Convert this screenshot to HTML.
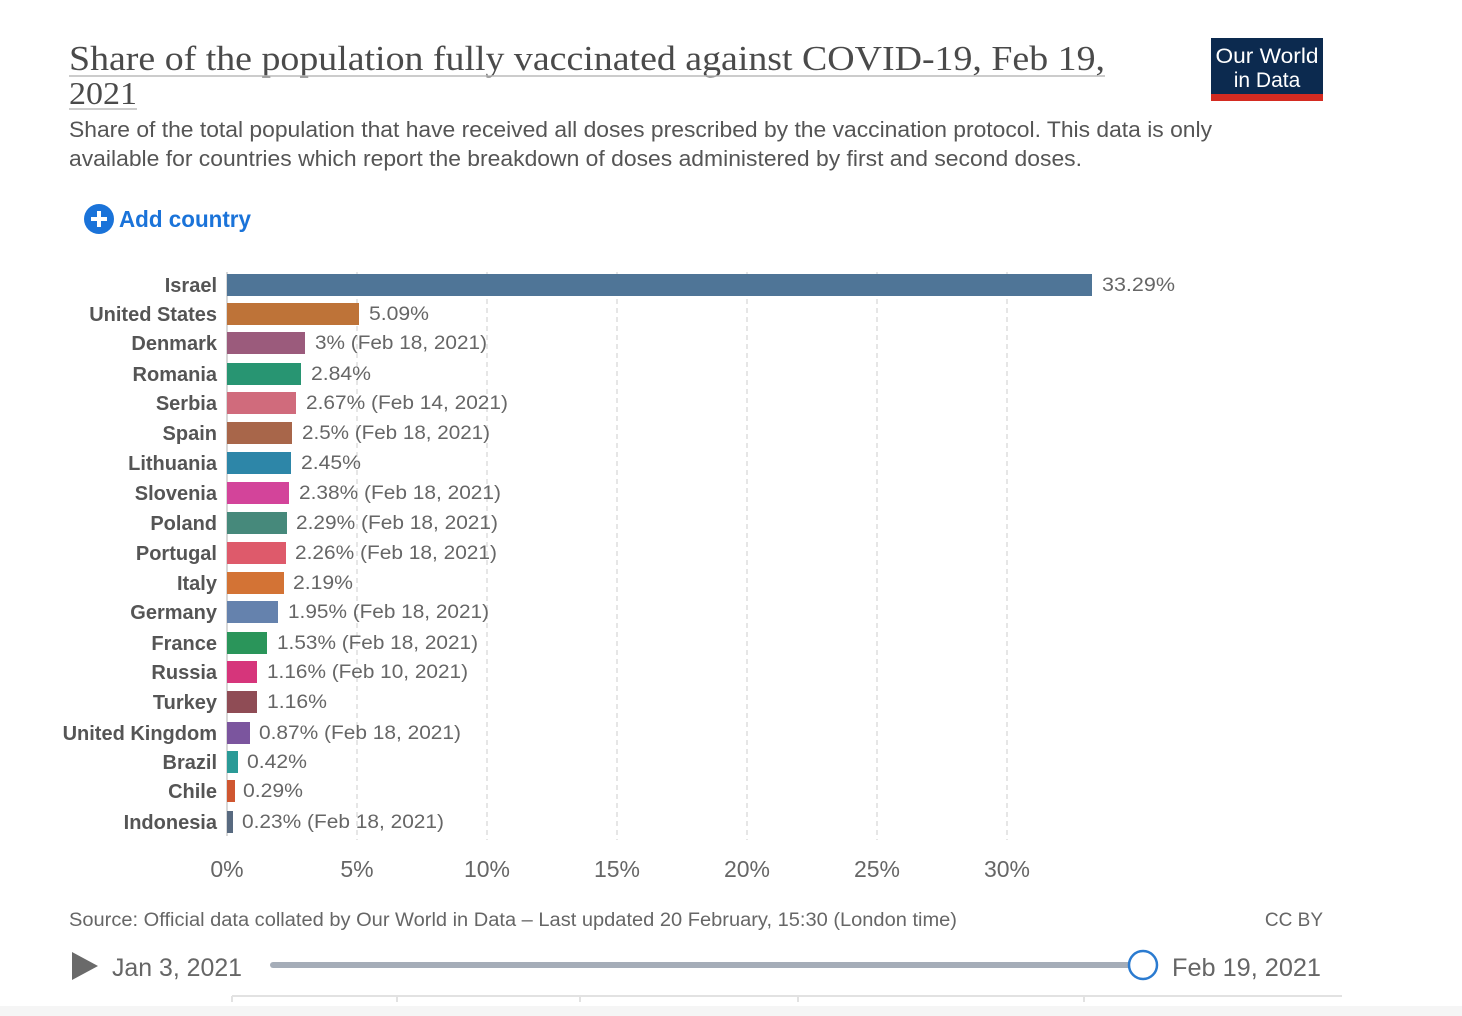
<!DOCTYPE html>
<html><head><meta charset="utf-8"><style>
html,body{margin:0;padding:0;background:#fff;width:1462px;height:1016px;overflow:hidden}
svg{display:block}
</style></head><body>
<svg width="1462" height="1016" viewBox="0 0 1462 1016" xmlns="http://www.w3.org/2000/svg" font-family="Liberation Sans, sans-serif">
<rect width="1462" height="1016" fill="#fff"/>
<text x="69" y="70" font-family="Liberation Serif, serif" font-size="35" fill="#4a4a4a" textLength="1036" lengthAdjust="spacingAndGlyphs">Share of the population fully vaccinated against COVID-19, Feb 19,</text>
<line x1="69" y1="76" x2="1105" y2="76" stroke="#bbb" stroke-width="1.5"/>
<text x="69" y="104" font-family="Liberation Serif, serif" font-size="32" fill="#4a4a4a" textLength="68" lengthAdjust="spacingAndGlyphs">2021</text>
<line x1="69" y1="109" x2="137" y2="109" stroke="#bbb" stroke-width="1.5"/>
<text x="69" y="137" font-size="22" fill="#555" textLength="1143" lengthAdjust="spacingAndGlyphs">Share of the total population that have received all doses prescribed by the vaccination protocol. This data is only</text>
<text x="69" y="166" font-size="22" fill="#555" textLength="1013" lengthAdjust="spacingAndGlyphs">available for countries which report the breakdown of doses administered by first and second doses.</text>
<rect x="1211" y="38" width="112" height="57" fill="#0c2a4f"/>
<rect x="1211" y="94" width="112" height="7" fill="#d42b21"/>
<text x="1267" y="63" font-size="21" fill="#fff" text-anchor="middle" textLength="103" lengthAdjust="spacingAndGlyphs">Our World</text>
<text x="1267" y="87" font-size="21" fill="#fff" text-anchor="middle">in Data</text>
<circle cx="99" cy="219" r="15" fill="#1a73d9"/>
<rect x="91" y="217" width="16" height="4" fill="#fff"/><rect x="97" y="211" width="4" height="16" fill="#fff"/>
<text x="119" y="227" font-size="23" font-weight="bold" fill="#1a73d9" textLength="132" lengthAdjust="spacingAndGlyphs">Add country</text>
<g stroke="#d6d6d6" stroke-dasharray="5,4" stroke-width="1.2">
<line x1="357" y1="272" x2="357" y2="840"/><line x1="487" y1="272" x2="487" y2="840"/><line x1="617" y1="272" x2="617" y2="840"/><line x1="747" y1="272" x2="747" y2="840"/><line x1="877" y1="272" x2="877" y2="840"/><line x1="1007" y1="272" x2="1007" y2="840"/>
</g>
<line x1="227" y1="272" x2="227" y2="836" stroke="#ccc" stroke-width="1.5"/>
<g font-size="20" font-weight="bold" fill="#555" text-anchor="end">
<text x="217" y="292">Israel</text><text x="217" y="321">United States</text><text x="217" y="350">Denmark</text><text x="217" y="381">Romania</text><text x="217" y="410">Serbia</text><text x="217" y="440">Spain</text><text x="217" y="470">Lithuania</text><text x="217" y="500">Slovenia</text><text x="217" y="530">Poland</text><text x="217" y="560">Portugal</text><text x="217" y="590">Italy</text><text x="217" y="619">Germany</text><text x="217" y="650">France</text><text x="217" y="679">Russia</text><text x="217" y="709">Turkey</text><text x="217" y="740">United Kingdom</text><text x="217" y="769">Brazil</text><text x="217" y="798">Chile</text><text x="217" y="829">Indonesia</text>
</g>
<g>
<rect x="227" y="274" width="865" height="22" fill="#4f7597"/>
<rect x="227" y="303" width="132" height="22" fill="#be7338"/>
<rect x="227" y="332" width="78" height="22" fill="#9b5b7c"/>
<rect x="227" y="363" width="74" height="22" fill="#289572"/>
<rect x="227" y="392" width="69" height="22" fill="#d06b7c"/>
<rect x="227" y="422" width="65" height="22" fill="#a8664a"/>
<rect x="227" y="452" width="64" height="22" fill="#2d86a8"/>
<rect x="227" y="482" width="62" height="22" fill="#d3449a"/>
<rect x="227" y="512" width="60" height="22" fill="#46897b"/>
<rect x="227" y="542" width="59" height="22" fill="#de5a6b"/>
<rect x="227" y="572" width="57" height="22" fill="#d37335"/>
<rect x="227" y="601" width="51" height="22" fill="#6582ad"/>
<rect x="227" y="632" width="40" height="22" fill="#2a955a"/>
<rect x="227" y="661" width="30" height="22" fill="#d6357b"/>
<rect x="227" y="691" width="30" height="22" fill="#8f4c55"/>
<rect x="227" y="722" width="23" height="22" fill="#7b559e"/>
<rect x="227" y="751" width="11" height="22" fill="#2a9a97"/>
<rect x="227" y="780" width="8" height="22" fill="#cf5630"/>
<rect x="227" y="811" width="6" height="22" fill="#586a80"/>
</g>
<g font-size="19" fill="#666">
<text x="1102" y="291" textLength="73" lengthAdjust="spacingAndGlyphs">33.29%</text>
<text x="369" y="320" textLength="60" lengthAdjust="spacingAndGlyphs">5.09%</text>
<text x="315" y="349" textLength="172" lengthAdjust="spacingAndGlyphs">3% (Feb 18, 2021)</text>
<text x="311" y="380" textLength="60" lengthAdjust="spacingAndGlyphs">2.84%</text>
<text x="306" y="409" textLength="202" lengthAdjust="spacingAndGlyphs">2.67% (Feb 14, 2021)</text>
<text x="302" y="439" textLength="188" lengthAdjust="spacingAndGlyphs">2.5% (Feb 18, 2021)</text>
<text x="301" y="469" textLength="60" lengthAdjust="spacingAndGlyphs">2.45%</text>
<text x="299" y="499" textLength="202" lengthAdjust="spacingAndGlyphs">2.38% (Feb 18, 2021)</text>
<text x="296" y="529" textLength="202" lengthAdjust="spacingAndGlyphs">2.29% (Feb 18, 2021)</text>
<text x="295" y="559" textLength="202" lengthAdjust="spacingAndGlyphs">2.26% (Feb 18, 2021)</text>
<text x="293" y="589" textLength="60" lengthAdjust="spacingAndGlyphs">2.19%</text>
<text x="288" y="618" textLength="201" lengthAdjust="spacingAndGlyphs">1.95% (Feb 18, 2021)</text>
<text x="277" y="649" textLength="201" lengthAdjust="spacingAndGlyphs">1.53% (Feb 18, 2021)</text>
<text x="267" y="678" textLength="201" lengthAdjust="spacingAndGlyphs">1.16% (Feb 10, 2021)</text>
<text x="267" y="708" textLength="60" lengthAdjust="spacingAndGlyphs">1.16%</text>
<text x="259" y="739" textLength="202" lengthAdjust="spacingAndGlyphs">0.87% (Feb 18, 2021)</text>
<text x="247" y="768" textLength="60" lengthAdjust="spacingAndGlyphs">0.42%</text>
<text x="243" y="797" textLength="60" lengthAdjust="spacingAndGlyphs">0.29%</text>
<text x="242" y="828" textLength="202" lengthAdjust="spacingAndGlyphs">0.23% (Feb 18, 2021)</text>
</g>
<g font-size="23" fill="#666" text-anchor="middle">
<text x="227" y="877">0%</text><text x="357" y="877">5%</text><text x="487" y="877">10%</text><text x="617" y="877">15%</text><text x="747" y="877">20%</text><text x="877" y="877">25%</text><text x="1007" y="877">30%</text>
</g>
<text x="69" y="926" font-size="19" fill="#666" textLength="888" lengthAdjust="spacingAndGlyphs">Source: Official data collated by Our World in Data – Last updated 20 February, 15:30 (London time)</text>
<text x="1323" y="926" font-size="19" fill="#666" text-anchor="end">CC BY</text>
<polygon points="72,952 98,966 72,980" fill="#6a6a6a"/>
<text x="112" y="976" font-size="25" fill="#666" textLength="130" lengthAdjust="spacingAndGlyphs">Jan 3, 2021</text>
<line x1="273" y1="965" x2="1143" y2="965" stroke="#a5adb8" stroke-width="6" stroke-linecap="round"/>
<circle cx="1143" cy="965" r="14" fill="#fff" stroke="#2b7bd0" stroke-width="2.5"/>
<text x="1172" y="976" font-size="25" fill="#666" textLength="149" lengthAdjust="spacingAndGlyphs">Feb 19, 2021</text>
<line x1="232" y1="996" x2="1342" y2="996" stroke="#e2e2e2" stroke-width="2"/>
<g stroke="#e2e2e2" stroke-width="2"><line x1="232" y1="996" x2="232" y2="1002"/><line x1="397" y1="996" x2="397" y2="1002"/><line x1="580" y1="996" x2="580" y2="1002"/><line x1="798" y1="996" x2="798" y2="1002"/><line x1="1084" y1="996" x2="1084" y2="1002"/></g>
<rect x="0" y="1006" width="1462" height="10" fill="#f5f5f5"/>
</svg>
</body></html>
